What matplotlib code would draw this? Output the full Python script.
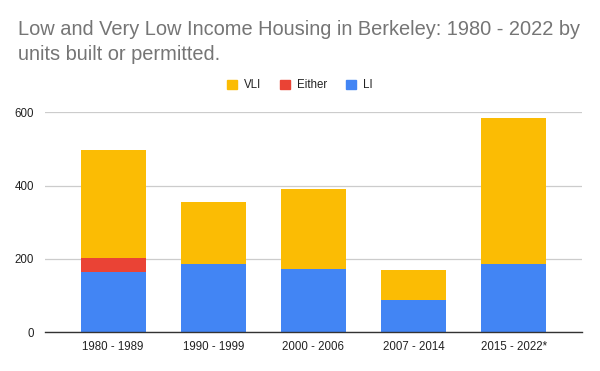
import numpy as np
import matplotlib
matplotlib.use("Agg")
import matplotlib.pyplot as plt
from matplotlib.patches import Patch

plt.rcParams['font.family'] = ['Liberation Sans', 'DejaVu Sans']

periods = ["1980 - 1989", "1990 - 1999", "2000 - 2006", "2007 - 2014", "2015 - 2022*"]
li = [165, 187, 173, 89, 187]
either = [38, 0, 0, 0, 0]
vli = [294, 168, 218, 81, 397]

blue = "#4285f4"
red = "#ea4335"
yellow = "#fbbc04"

fig = plt.figure(figsize=(6, 3.71), dpi=100)
ax = fig.add_axes([0.075, 0.104, 0.895, 0.594])

x = np.arange(len(periods))
li_a = np.array(li)
ei_a = np.array(either)
ax.bar(x, li, width=0.65, color=blue, zorder=2)
ax.bar(x, either, width=0.65, bottom=li_a, color=red, zorder=2)
ax.bar(x, vli, width=0.65, bottom=li_a + ei_a, color=yellow, zorder=2)

ax.set_xlim(-0.68, 4.68)
ax.set_ylim(0, 600)
ax.set_yticks([0, 200, 400, 600])
ax.set_xticks(x)
ax.set_xticklabels(periods)
ax.tick_params(axis='both', length=0, labelsize=8.3, labelcolor="#222222")
ax.tick_params(axis='x', pad=6)
ax.tick_params(axis='y', pad=8)
ax.grid(axis='y', color="#cccccc", linewidth=0.9, zorder=0)
for s in ["top", "right", "left"]:
    ax.spines[s].set_visible(False)
ax.spines["bottom"].set_color("#333333")
ax.spines["bottom"].set_linewidth(1.0)
ax.spines["bottom"].set_zorder(3)

fig.text(0.03, 0.945, "Low and Very Low Income Housing in Berkeley: 1980 - 2022 by\nunits built or permitted.",
         fontsize=14.4, color="#757575", va="top", ha="left", linespacing=1.4)

handles = [Patch(color=yellow, label="VLI"), Patch(color=red, label="Either"), Patch(color=blue, label="LI")]
fig.legend(handles=handles, loc="center", bbox_to_anchor=(0.5, 0.77), ncol=3, frameon=False,
           fontsize=8.3, handlelength=0.9, handleheight=0.9, handletextpad=0.6, columnspacing=1.6,
           labelcolor="#222222")

fig.savefig("out.png", dpi=100)
